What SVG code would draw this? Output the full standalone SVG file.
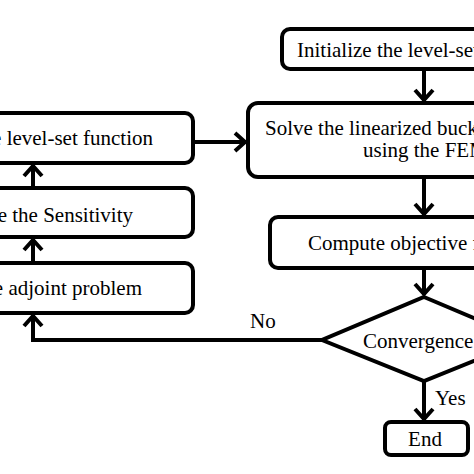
<svg xmlns="http://www.w3.org/2000/svg" width="474" height="474" viewBox="0 0 474 474">
<style>
.box{fill:#fff;stroke:#000;stroke-width:4}
.t{font-family:"Liberation Serif","Times New Roman",serif;font-size:21px;fill:#000}
.c{fill:none;stroke:#000;stroke-width:4}
</style>
<defs>
<marker id="ah" markerUnits="userSpaceOnUse" markerWidth="24" markerHeight="24" viewBox="-12 -12 24 24" refX="0" refY="0" orient="auto" overflow="visible">
<path d="M-11,-9 L-1,0 L-11,9" fill="none" stroke="#000" stroke-width="4"/>
</marker>
</defs>
<rect width="474" height="474" fill="#fff"/>
<g id="connectors">
<path class="c" d="M424,69 V101" marker-end="url(#ah)"/>
<path class="c" d="M424,177 V215" marker-end="url(#ah)"/>
<path class="c" d="M424,268 V295" marker-end="url(#ah)"/>
<path class="c" d="M424,381 V420" marker-end="url(#ah)"/>
<path class="c" d="M322,340 H33 V315" marker-end="url(#ah)"/>
<path class="c" d="M33,263 V239" marker-end="url(#ah)"/>
<path class="c" d="M33,188 V165" marker-end="url(#ah)"/>
<path class="c" d="M193,142 H246" marker-end="url(#ah)"/>
<text class="t" x="250" y="328">No</text>
<text class="t" x="435" y="405">Yes</text>
</g>
<g id="init">
<rect class="box" x="282" y="29" width="330" height="40" rx="8"/>
<text class="t" x="297" y="57">Initialize the level-set function</text>
</g>
<g id="solve">
<rect class="box" x="248" y="103" width="380" height="74" rx="10"/>
<text class="t" x="265" y="135">Solve the linearized buckling problem</text>
<text class="t" x="363" y="157">using the FEM</text>
</g>
<g id="compute">
<rect class="box" x="270" y="217" width="360" height="51" rx="8"/>
<text class="t" x="308" y="250">Compute objective function</text>
</g>
<g id="convergence">
<polygon class="box" points="424,297 526,340 424,381 322,340"/>
<text class="t" x="363" y="348">Convergence?</text>
</g>
<g id="end">
<rect class="box" x="385" y="422" width="83" height="33" rx="6" stroke-width="5"/>
<text class="t" x="425" y="446" text-anchor="middle">End</text>
</g>
<g id="update">
<rect class="box" x="-150" y="113" width="343" height="50" rx="8"/>
<text class="t" x="153" y="145" text-anchor="end">Update the level-set function</text>
</g>
<g id="sensitivity">
<rect class="box" x="-150" y="188" width="343" height="49" rx="8"/>
<text class="t" x="133" y="222" text-anchor="end">Compute the Sensitivity</text>
</g>
<g id="adjoint">
<rect class="box" x="-150" y="263" width="343" height="50" rx="8"/>
<text class="t" x="142" y="295" text-anchor="end">Solve the adjoint problem</text>
</g>
</svg>
